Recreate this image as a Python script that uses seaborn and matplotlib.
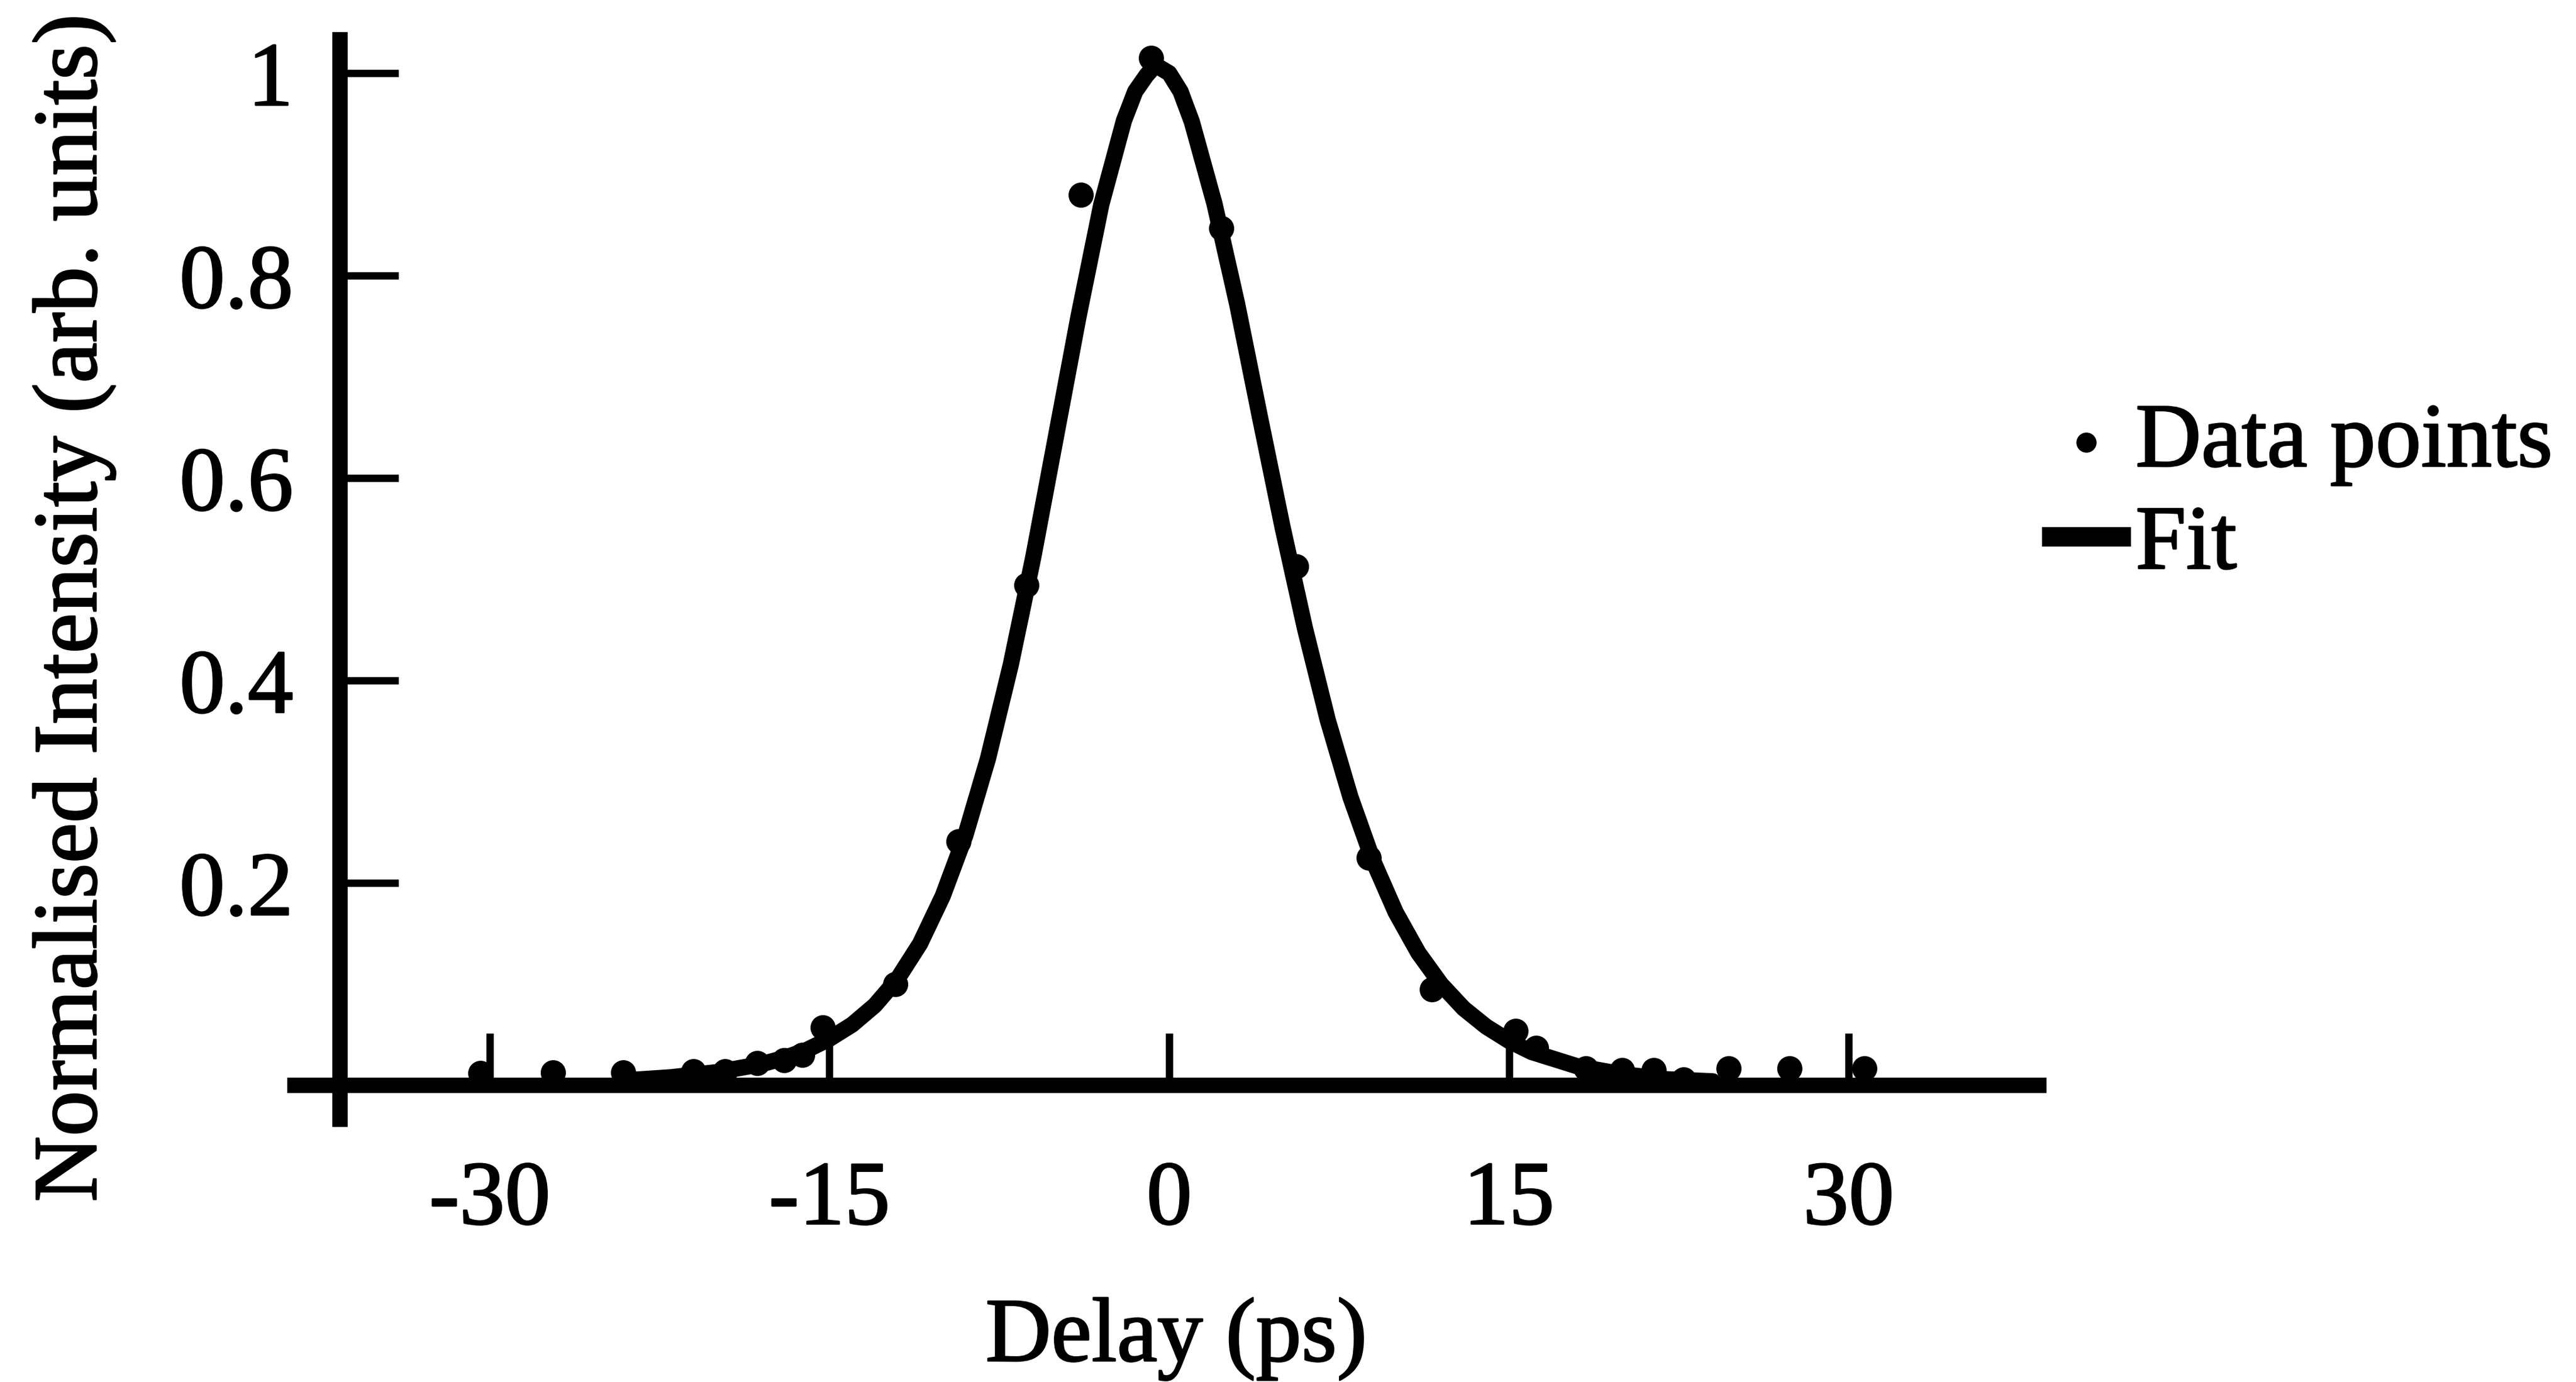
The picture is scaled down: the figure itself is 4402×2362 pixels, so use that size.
import matplotlib
matplotlib.use("Agg")
import matplotlib.pyplot as plt
import matplotlib.patheffects as pe
import pandas as pd
import seaborn as sns

# Measured autocorrelation trace
delay_ps = [-30.4, -27.2, -24.1, -21.0, -19.6, -18.2, -17.0, -16.2, -15.3,
            -12.1, -9.3, -6.3, -3.9, -0.8, 2.3, 5.6, 8.8, 11.6,
            15.3, 16.2, 18.4, 20.0, 21.4, 22.7, 24.7, 27.4, 30.7]
intensity = [0.012, 0.013, 0.013, 0.014, 0.014, 0.022, 0.025, 0.030, 0.057,
             0.100, 0.241, 0.494, 0.880, 1.015, 0.847, 0.513, 0.225, 0.095,
             0.054, 0.037, 0.017, 0.015, 0.015, 0.006, 0.017, 0.017, 0.017]

# Fitted pulse profile
fit_delay_ps = [-24, -22, -20, -18, -17, -16, -15, -14, -13, -12, -11, -10,
                -9, -8, -7, -6, -5, -4, -3, -2, -1.5, -1, -0.6, 0, 0.5, 1,
                2, 3, 4, 5, 6, 7, 8, 9, 10, 11, 12, 13, 14, 15, 16, 18, 20,
                22, 24]
fit_intensity = [0.005, 0.008, 0.013, 0.021, 0.027, 0.035, 0.046, 0.060,
                 0.079, 0.105, 0.140, 0.187, 0.247, 0.323, 0.415, 0.522,
                 0.641, 0.760, 0.870, 0.953, 0.982, 0.998, 1.008, 1.0,
                 0.982, 0.952, 0.871, 0.772, 0.661, 0.552, 0.451, 0.361,
                 0.285, 0.222, 0.171, 0.131, 0.100, 0.076, 0.058, 0.044,
                 0.033, 0.019, 0.011, 0.006, 0.004]

x_ticks = [-30, -15, 0, 15, 30]
x_tick_labels = ["-30", "-15", "0", "15", "30"]
y_ticks = [0.2, 0.4, 0.6, 0.8, 1.0]
y_tick_labels = ["0.2", "0.4", "0.6", "0.8", "1"]

sns.set_theme(style="white")
plt.rcParams["font.family"] = ["Liberation Serif", "DejaVu Serif"]
plt.rcParams["axes.unicode_minus"] = False
plt.rcParams["text.color"] = "black"

FS = 56
heavy = [pe.withStroke(linewidth=1.0, foreground="black")]

fig = plt.figure(figsize=(22.01, 11.81), dpi=200)
ax = fig.add_axes([0.1145, 0.1901, 0.6770, 0.7811])

data = pd.DataFrame({"delay": delay_ps, "intensity": intensity})
fit = pd.DataFrame({"delay": fit_delay_ps, "intensity": fit_intensity})

sns.lineplot(data=fit, x="delay", y="intensity", color="black", lw=10,
             ax=ax, label="Fit", solid_joinstyle="round",
             solid_capstyle="round", zorder=2)
sns.scatterplot(data=data, x="delay", y="intensity", color="black", s=240,
                edgecolor="black", linewidth=0, ax=ax, label="Data points",
                zorder=3)

ax.set_xlim(-38.6, 38.4)
ax.set_ylim(-0.0335, 1.033)

for side in ("top", "right"):
    ax.spines[side].set_visible(False)
ax.spines["left"].set_position(("data", -36.6))
ax.spines["bottom"].set_position(("data", 0))
for side in ("left", "bottom"):
    ax.spines[side].set_linewidth(9.5)
    ax.spines[side].set_color("black")

ax.set_xticks(x_ticks)
ax.set_xticklabels(x_tick_labels)
ax.set_yticks(y_ticks)
ax.set_yticklabels(y_tick_labels)
ax.tick_params(axis="x", direction="in", length=32, width=4.5, pad=46,
               labelsize=FS, colors="black", bottom=True)
ax.tick_params(axis="y", direction="in", length=36, width=4.5, pad=29,
               labelsize=FS, colors="black", left=True)

ax.set_xlabel("Delay (ps)", fontsize=FS, color="black")
ax.xaxis.set_label_coords(0.5054, -0.2033)
ax.xaxis.label.set_va("center")
ax.set_ylabel("Normalised Intensity (arb. units)", fontsize=FS, color="black")
ax.yaxis.set_label_coords(-0.1268, 0.4737)
ax.yaxis.label.set_va("center")

handles, labels = ax.get_legend_handles_labels()
order = [labels.index("Data points"), labels.index("Fit")]
leg = ax.legend([handles[i] for i in order], [labels[i] for i in order],
                loc="center left", bbox_to_anchor=(0.7926, 0.6418),
                bbox_transform=fig.transFigure, frameon=False, fontsize=FS,
                handlelength=0.98, handletextpad=0.05, borderpad=0,
                borderaxespad=0, labelspacing=0.21, markerscale=0.8)
for line in leg.get_lines():
    line.set_linewidth(12)
    line.set_solid_capstyle("butt")
for txt in leg.get_texts():
    txt.set_color("black")

texts = (ax.get_xticklabels() + ax.get_yticklabels()
         + [ax.xaxis.label, ax.yaxis.label] + leg.get_texts())
for txt in texts:
    txt.set_path_effects(heavy)

fig.savefig("out.png", dpi=200)
